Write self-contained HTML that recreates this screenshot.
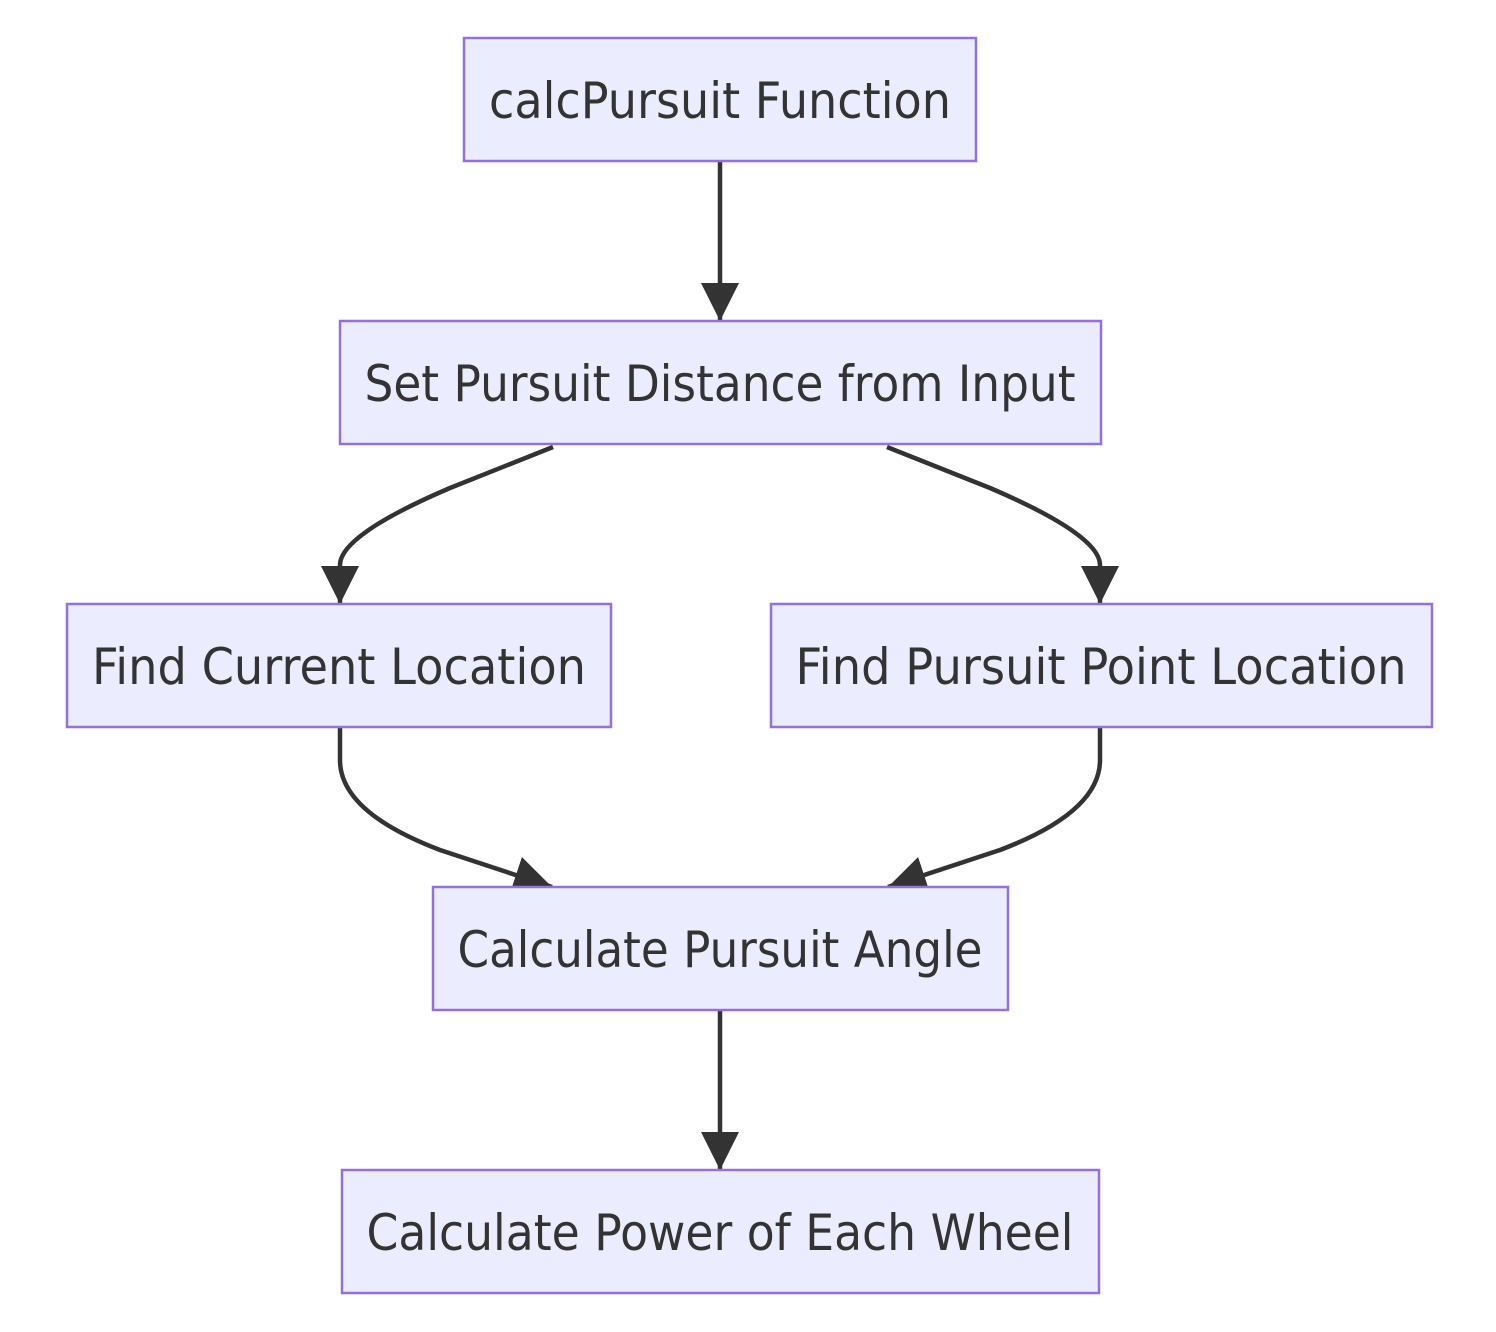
<!DOCTYPE html>
<html><head><meta charset="utf-8"><style>
html,body{margin:0;padding:0;background:#fff;}
svg{display:block;}
text{font-family:"DejaVu Sans","Liberation Sans",sans-serif;font-size:50px;fill:#333;}
rect{fill:#ECECFF;stroke:#9370DB;stroke-width:2.5;}
path.e{fill:none;stroke:#333;stroke-width:4.5;}
</style></head><body>
<svg width="1496" height="1332" viewBox="0 0 1496 1332" xmlns="http://www.w3.org/2000/svg">
<defs>
<marker id="a" viewBox="0 0 10 10" refX="10" refY="5" markerUnits="userSpaceOnUse" markerWidth="38" markerHeight="38" orient="auto">
<path d="M0,0 L10,5 L0,10 z" fill="#333"/>
</marker>
</defs>
<path class="e" d="M720,161 L720,321" marker-end="url(#a)"/>
<path class="e" d="M553,447 L450,488 Q340,535 340,565 L340,604" marker-end="url(#a)"/>
<path class="e" d="M887,447 L990,488 Q1100,535 1100,565 L1100,604" marker-end="url(#a)"/>
<path class="e" d="M340,728 L340,760 Q340,812 440,850 L552,887" marker-end="url(#a)"/>
<path class="e" d="M1100,728 L1100,760 Q1100,812 1000,850 L888,887" marker-end="url(#a)"/>
<path class="e" d="M720,1011 L720,1170" marker-end="url(#a)"/>

<rect x="464" y="38" width="512" height="123"/>
<text x="720" y="118" text-anchor="middle" textLength="462" lengthAdjust="spacingAndGlyphs">calcPursuit Function</text>
<rect x="340" y="321" width="761" height="123"/>
<text x="720" y="401" text-anchor="middle" textLength="711" lengthAdjust="spacingAndGlyphs">Set Pursuit Distance from Input</text>
<rect x="67" y="604" width="544" height="123"/>
<text x="339" y="684" text-anchor="middle" textLength="494" lengthAdjust="spacingAndGlyphs">Find Current Location</text>
<rect x="771" y="604" width="661" height="123"/>
<text x="1101" y="684" text-anchor="middle" textLength="611" lengthAdjust="spacingAndGlyphs">Find Pursuit Point Location</text>
<rect x="433" y="887" width="575" height="123"/>
<text x="720" y="967" text-anchor="middle" textLength="525" lengthAdjust="spacingAndGlyphs">Calculate Pursuit Angle</text>
<rect x="342" y="1170" width="757" height="123"/>
<text x="720" y="1250" text-anchor="middle" textLength="707" lengthAdjust="spacingAndGlyphs">Calculate Power of Each Wheel</text>
</svg>
</body></html>
